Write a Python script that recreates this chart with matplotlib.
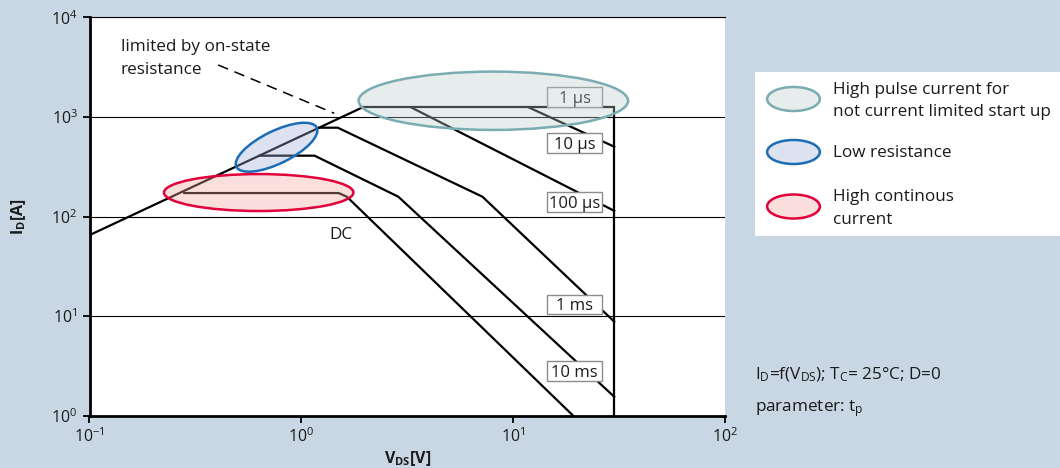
import matplotlib
matplotlib.use('Agg')
import matplotlib.pyplot as plt
import matplotlib.transforms as mtransforms
from matplotlib.patches import Ellipse, Rectangle
from matplotlib.ticker import LogLocator, NullLocator

plt.rcParams['font.family'] = ['Open Sans', 'DejaVu Sans']
plt.rcParams['mathtext.fontset'] = 'custom'
plt.rcParams['mathtext.rm'] = 'Open Sans'
plt.rcParams['mathtext.it'] = 'Open Sans:italic'
plt.rcParams['mathtext.bf'] = 'Open Sans:bold'

# ---------------- data ----------------
rds_v = [0.1, 1.95]
rds_i = [65, 1250]
dash_v = [0.405, 1.43]
dash_i = [3320, 1087]

us1_v = [1.95, 30, 30]
us1_i = [1250, 1250, 1]
us10_v = [11.8, 30]
us10_i = [1250, 502]
us100_v = [3.29, 30]
us100_i = [1250, 114]
ms1_v = [1.215, 1.486, 7.16, 30]
ms1_i = [779, 779, 158, 8.8]
ms10_v = [0.636, 1.155, 2.87, 30]
ms10_i = [408, 408, 158, 1.55]
dc_v = [0.28, 1.50, 1.64, 19.2]
dc_i = [172, 172, 158, 1]

pulse_labels = ['1 µs', '10 µs', '100 µs', '1 ms', '10 ms']
pulse_label_v = [19.5, 19.5, 19.5, 19.5, 19.5]
pulse_label_i = [1585, 547, 140.5, 13.1, 2.80]

x_ticks = [0.1, 1, 10, 100]
y_ticks = [1, 10, 100, 1000, 10000]

# ellipse regions: centre (V, I), size in points, angle
region_names = ['High pulse current for\nnot current limited start up',
                'Low resistance', 'High continous\ncurrent']
region_v = [8.06, 0.764, 0.629]
region_i = [1452, 496, 174]
region_w = [194, 64.4, 136.4]
region_h = [42, 23.5, 26.6]
region_ang = [0, 26, 0]
region_edge = ['#7aacb2', '#1b6db5', '#e2003a']
region_fill = [(189/255, 206/255, 206/255), (155/255, 172/255, 212/255), (246/255, 166/255, 155/255)]

BG = '#c9d7e4'
TXT = '#1a1a1a'
FS = 12.3

fig = plt.figure(figsize=(10.6, 4.68), dpi=100)
fig.patch.set_facecolor(BG)

W, H = 1060.0, 468.0
ax = fig.add_axes([89.5 / W, 1 - 415.7 / H, (725 - 89.5) / W, (415.7 - 17.3) / H])
ax.set_facecolor('white')
ax.set_xscale('log')
ax.set_yscale('log')
ax.set_xlim(0.1, 100)
ax.set_ylim(1, 10000)

ax.xaxis.set_major_locator(LogLocator(base=10, subs=(1.0,)))
ax.yaxis.set_major_locator(LogLocator(base=10, subs=(1.0,)))
ax.xaxis.set_minor_locator(NullLocator())
ax.yaxis.set_minor_locator(NullLocator())
ax.set_xticks(x_ticks)
ax.set_yticks(y_ticks)

for s in ['left', 'bottom']:
    ax.spines[s].set_linewidth(2.0)
    ax.spines[s].set_color('black')
ax.spines['right'].set_visible(False)
ax.spines['top'].set_linewidth(0.8)
ax.spines['top'].set_color('black')

ax.yaxis.grid(True, color='black', linewidth=0.8, zorder=1)
ax.set_axisbelow(True)

ax.tick_params(axis='both', which='major', direction='out', length=5, width=1.3,
               color='black', labelsize=11.5, labelcolor=TXT)
ax.tick_params(axis='y', pad=3.5)
ax.tick_params(axis='x', pad=3)

ax.set_xlabel(r'V$_\mathregular{DS}$[V]', fontsize=11.5, fontweight='bold', color=TXT)
ax.set_ylabel(r'I$_\mathregular{D}$[A]', fontsize=11.5, fontweight='bold', color=TXT)
ax.xaxis.set_label_coords(0.5, -0.083)
ax.yaxis.set_label_coords(-0.097, 0.5)

lw = 1.6
for v, i in [(rds_v, rds_i), (us1_v, us1_i), (us10_v, us10_i), (us100_v, us100_i),
             (ms1_v, ms1_i), (ms10_v, ms10_i), (dc_v, dc_i)]:
    ax.plot(v, i, color='black', linewidth=lw, zorder=3, solid_joinstyle='miter')

ax.plot(dash_v, dash_i, color='black', linewidth=1.1, dashes=(7, 4.5), zorder=3)

ax.text(0.1406, 5035, 'limited by on-state', fontsize=FS, ha='left', va='center', color=TXT, zorder=5)
ax.text(0.1406, 2957, 'resistance', fontsize=FS, ha='left', va='center', color=TXT, zorder=5)
ax.text(1.545, 65.2, 'DC', fontsize=FS, ha='center', va='center', color=TXT, zorder=5)


def pt_trans(x, y, base):
    return (mtransforms.Affine2D().scale(1 / 72.0) + fig.dpi_scale_trans
            + mtransforms.ScaledTranslation(x, y, base))


box_w, box_h = 39.6, 14.0
for name, v, i in zip(pulse_labels, pulse_label_v, pulse_label_i):
    r = Rectangle((-box_w / 2, -box_h / 2), box_w, box_h, transform=pt_trans(v, i, ax.transData),
                  facecolor='white', edgecolor='#8c8c8c', linewidth=1.0, zorder=4, clip_on=False)
    ax.add_artist(r)
    ax.text(v, i, name, fontsize=12, ha='center', va='center_baseline', color=TXT, zorder=5)

for k in range(3):
    e = Ellipse((0, 0), region_w[k], region_h[k], angle=region_ang[k],
                transform=pt_trans(region_v[k], region_i[k], ax.transData),
                facecolor=region_fill[k] + (0.35,), edgecolor=region_edge[k],
                linewidth=1.8, zorder=6, clip_on=False)
    ax.add_artist(e)

# legend panel
fig.add_artist(Rectangle((755 / W, 1 - 236 / H), (1060 - 755) / W, (236 - 72) / H,
                         transform=fig.transFigure, facecolor='white', edgecolor='none', zorder=1))
leg_y = [1 - 99 / H, 1 - 152 / H, 1 - 206.5 / H]
for k in range(3):
    e = Ellipse((0, 0), 38, 17.3, transform=pt_trans(793.5 / W, leg_y[k], fig.transFigure),
                facecolor=region_fill[k] + (0.35,), edgecolor=region_edge[k], linewidth=1.8, zorder=2)
    fig.add_artist(e)

leg_lines = [('High pulse current for', 90), ('not current limited start up', 112),
             ('Low resistance', 152.7), ('High continous', 196.7), ('current', 220)]
for t, yy in leg_lines:
    fig.text(833 / W, 1 - yy / H, t, fontsize=FS, ha='left', va='center', color=TXT, zorder=3)

fig.text(755 / W, 1 - 375 / H, r'I$_\mathregular{D}$=f(V$_\mathregular{DS}$); T$_\mathregular{C}$= 25°C; D=0',
         fontsize=12.3, ha='left', va='center', color=TXT)
fig.text(755 / W, 1 - 409 / H, r'parameter: t$_\mathregular{p}$',
         fontsize=12.3, ha='left', va='center', color=TXT)

fig.savefig('out.png', dpi=100, facecolor=BG)
